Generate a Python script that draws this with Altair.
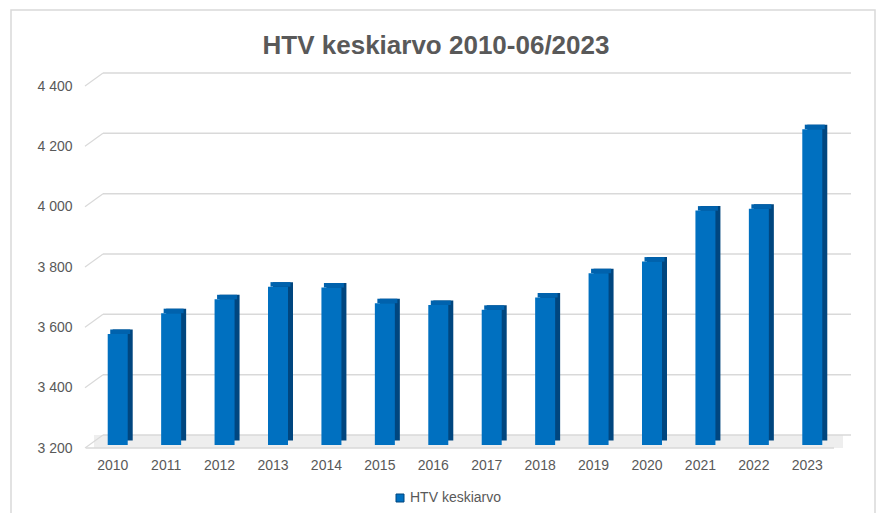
import altair as alt
import pandas as pd

# ---- data ----
years = ["2010", "2011", "2012", "2013", "2014", "2015", "2016",
         "2017", "2018", "2019", "2020", "2021", "2022", "2023"]
values = [3568, 3637, 3683, 3725, 3722, 3670, 3664,
          3648, 3689, 3769, 3808, 3977, 3983, 4247]
series_name = "HTV keskiarvo"
y_ticks = [3200, 3400, 3600, 3800, 4000, 4200, 4400]
title_text = "HTV keskiarvo 2010-06/2023"

df = pd.DataFrame({"year": years, "value": values, "series": [series_name] * len(years)})
ticks_df = pd.DataFrame({"tick": y_ticks})

W, H = 748, 362
FONT = "Liberation Sans"
TXT = "#595959"
GRID = "#d9d9d9"
DEPTH_UNITS = 43  # depth of the 3-D wall expressed in data units (~13px)

yscale = alt.Scale(domain=[3200, 4400], nice=False, zero=False)
y_axis = alt.Axis(values=y_ticks, grid=False, domain=False, ticks=False, tickSize=0,
                  labelPadding=14, labelFontSize=14, labelColor=TXT, labelFont=FONT,
                  labelExpr="replace(format(datum.value, ','), ',', ' ')", title=None,
                  zindex=1)
xscale = alt.Scale(paddingInner=0, paddingOuter=0)
x_axis = alt.Axis(domain=False, ticks=False, tickSize=0, labelPadding=10, labelAngle=0,
                  labelFontSize=14, labelColor=TXT, labelFont=FONT, title=None, zindex=1)

base_ticks = alt.Chart(ticks_df).transform_calculate(tick2=f"datum.tick + {DEPTH_UNITS}")

frame = alt.Chart(alt.Data(values=[{}])).mark_rect(
    fillOpacity=0, stroke=GRID, strokeWidth=1.5
).encode(x=alt.value(-75), x2=alt.value(789), y=alt.value(-76), y2=alt.value(520))

floor = base_ticks.transform_filter("datum.tick == 3200").mark_rect(
    fill="#eeeeee"
).encode(y=alt.Y("tick:Q", scale=yscale, axis=y_axis), y2="tick2:Q",
         x=alt.value(8), x2=alt.value(757))

grid = base_ticks.mark_rule(color=GRID, strokeWidth=1.5, yOffset=-13).encode(
    y=alt.Y("tick:Q", scale=yscale, axis=y_axis), x=alt.value(17), x2=alt.value(765))

diag = base_ticks.mark_rule(color=GRID, strokeWidth=1.2).encode(
    y=alt.Y("tick:Q", scale=yscale, axis=y_axis), y2="tick2:Q",
    x=alt.value(-1), x2=alt.value(17))

front_floor = base_ticks.transform_filter("datum.tick == 3200").mark_rule(
    color=GRID, strokeWidth=1.5).encode(
    y=alt.Y("tick:Q", scale=yscale, axis=y_axis), x=alt.value(0), x2=alt.value(748))

bars_base = alt.Chart(df)

side = bars_base.mark_bar(width=20, xOffset=10, yOffset=-7.5, y2Offset=-7.5,
                          color="#00467f").encode(
    x=alt.X("year:O", scale=xscale, axis=x_axis),
    y=alt.Y("value:Q", scale=yscale, axis=y_axis), y2=alt.datum(3200))

top = bars_base.mark_bar(width=20, xOffset=7.5, yOffset=-7.5, y2Offset=-3,
                         color="#0062ad").encode(
    x=alt.X("year:O", scale=xscale, axis=x_axis),
    y=alt.Y("value:Q", scale=yscale, axis=y_axis), y2="value:Q")

front = bars_base.mark_bar(width=20, xOffset=5, yOffset=-3, y2Offset=-3).encode(
    x=alt.X("year:O", scale=xscale, axis=x_axis),
    y=alt.Y("value:Q", scale=yscale, axis=y_axis), y2=alt.datum(3200),
    color=alt.Color("series:N", scale=alt.Scale(range=["#0070C0"]),
                    legend=alt.Legend(title=None, orient="none", legendX=307, legendY=405,
                                      symbolType="square", symbolSize=64,
                                      symbolStrokeColor="#00467f", symbolStrokeWidth=1,
                                      labelFontSize=14, labelColor=TXT, labelFont=FONT,
                                      labelOffset=3, padding=0)))

chart = alt.layer(frame, floor, grid, diag, front_floor, side, top, front).properties(
    width=W, height=H,
    background="white",
    title=alt.TitleParams(title_text, fontSize=26, font=FONT, fontWeight="bold",
                          color=TXT, anchor="middle", frame="group", dx=-24, offset=-71,
                          baseline="alphabetic"),
    autosize=alt.AutoSizeParams(type="none"),
    padding={"left": 78, "top": 78, "right": 42, "bottom": 65},
).configure_view(strokeOpacity=0, strokeWidth=0)

chart.save("out.html", embed_options={"renderer": "svg", "actions": False})
